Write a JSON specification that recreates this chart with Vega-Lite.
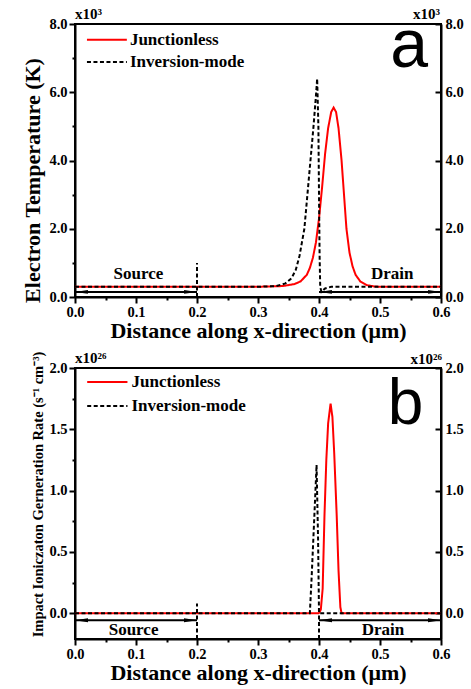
{
  "$schema": "https://vega.github.io/schema/vega-lite/v6.json",
  "background": "white",
  "padding": {"left": 20, "top": 6, "right": 4, "bottom": 4},
  "bounds": "flush",
  "spacing": 71,
  "datasets": {
    "curvesA": [
      {"series": "Junctionless", "x": 0, "y": 0.3},
      {"series": "Junctionless", "x": 0.3, "y": 0.3},
      {"series": "Junctionless", "x": 0.34, "y": 0.32},
      {"series": "Junctionless", "x": 0.36, "y": 0.38},
      {"series": "Junctionless", "x": 0.37, "y": 0.46},
      {"series": "Junctionless", "x": 0.38, "y": 0.65},
      {"series": "Junctionless", "x": 0.385, "y": 0.85},
      {"series": "Junctionless", "x": 0.39, "y": 1.15},
      {"series": "Junctionless", "x": 0.395, "y": 1.6},
      {"series": "Junctionless", "x": 0.4, "y": 2.3},
      {"series": "Junctionless", "x": 0.405, "y": 3.2},
      {"series": "Junctionless", "x": 0.41, "y": 4.2},
      {"series": "Junctionless", "x": 0.415, "y": 4.95},
      {"series": "Junctionless", "x": 0.42, "y": 5.42},
      {"series": "Junctionless", "x": 0.424, "y": 5.55},
      {"series": "Junctionless", "x": 0.428, "y": 5.42},
      {"series": "Junctionless", "x": 0.432, "y": 4.95},
      {"series": "Junctionless", "x": 0.437, "y": 4.0},
      {"series": "Junctionless", "x": 0.441, "y": 3.0},
      {"series": "Junctionless", "x": 0.445, "y": 2.0},
      {"series": "Junctionless", "x": 0.45, "y": 1.3},
      {"series": "Junctionless", "x": 0.455, "y": 0.9},
      {"series": "Junctionless", "x": 0.46, "y": 0.65},
      {"series": "Junctionless", "x": 0.468, "y": 0.45},
      {"series": "Junctionless", "x": 0.478, "y": 0.35},
      {"series": "Junctionless", "x": 0.49, "y": 0.31},
      {"series": "Junctionless", "x": 0.5, "y": 0.3},
      {"series": "Junctionless", "x": 0.6, "y": 0.3},
      {"series": "Inversion-mode", "x": 0, "y": 0.3},
      {"series": "Inversion-mode", "x": 0.3, "y": 0.3},
      {"series": "Inversion-mode", "x": 0.33, "y": 0.32},
      {"series": "Inversion-mode", "x": 0.345, "y": 0.4},
      {"series": "Inversion-mode", "x": 0.355, "y": 0.55},
      {"series": "Inversion-mode", "x": 0.362, "y": 0.8},
      {"series": "Inversion-mode", "x": 0.368, "y": 1.2},
      {"series": "Inversion-mode", "x": 0.372, "y": 1.6},
      {"series": "Inversion-mode", "x": 0.376, "y": 2.0},
      {"series": "Inversion-mode", "x": 0.381, "y": 3.0},
      {"series": "Inversion-mode", "x": 0.386, "y": 4.0},
      {"series": "Inversion-mode", "x": 0.391, "y": 5.0},
      {"series": "Inversion-mode", "x": 0.395, "y": 5.9},
      {"series": "Inversion-mode", "x": 0.397, "y": 6.4},
      {"series": "Inversion-mode", "x": 0.399, "y": 5.0},
      {"series": "Inversion-mode", "x": 0.4, "y": 3.0},
      {"series": "Inversion-mode", "x": 0.401, "y": 1.2},
      {"series": "Inversion-mode", "x": 0.402, "y": 0.3},
      {"series": "Inversion-mode", "x": 0.404, "y": 0.15},
      {"series": "Inversion-mode", "x": 0.41, "y": 0.25},
      {"series": "Inversion-mode", "x": 0.42, "y": 0.3},
      {"series": "Inversion-mode", "x": 0.6, "y": 0.3}
    ],
    "curvesB": [
      {"series": "Junctionless", "x": 0, "y": 0},
      {"series": "Junctionless", "x": 0.4, "y": 0},
      {"series": "Junctionless", "x": 0.403, "y": 0.03},
      {"series": "Junctionless", "x": 0.406, "y": 0.2},
      {"series": "Junctionless", "x": 0.409, "y": 0.8},
      {"series": "Junctionless", "x": 0.412, "y": 1.25},
      {"series": "Junctionless", "x": 0.415, "y": 1.55},
      {"series": "Junctionless", "x": 0.419, "y": 1.71},
      {"series": "Junctionless", "x": 0.422, "y": 1.6},
      {"series": "Junctionless", "x": 0.425, "y": 1.3},
      {"series": "Junctionless", "x": 0.429, "y": 0.8},
      {"series": "Junctionless", "x": 0.432, "y": 0.35},
      {"series": "Junctionless", "x": 0.435, "y": 0.05},
      {"series": "Junctionless", "x": 0.437, "y": 0},
      {"series": "Junctionless", "x": 0.6, "y": 0},
      {"series": "Inversion-mode", "x": 0, "y": 0},
      {"series": "Inversion-mode", "x": 0.385, "y": 0},
      {"series": "Inversion-mode", "x": 0.388, "y": 0.3},
      {"series": "Inversion-mode", "x": 0.392, "y": 0.75},
      {"series": "Inversion-mode", "x": 0.396, "y": 1.21},
      {"series": "Inversion-mode", "x": 0.3985, "y": 0.6},
      {"series": "Inversion-mode", "x": 0.4, "y": 0},
      {"series": "Inversion-mode", "x": 0.6, "y": 0}
    ],
    "legA": [
      {"series": "Junctionless", "x": 0.0196, "x2": 0.085, "y": 7.54},
      {"series": "Inversion-mode", "x": 0.0196, "x2": 0.085, "y": 6.89}
    ],
    "legTA": [
      {"series": "Junctionless", "x": 0.09, "y": 7.54},
      {"series": "Inversion-mode", "x": 0.09, "y": 6.89}
    ],
    "legB": [
      {"series": "Junctionless", "x": 0.02, "x2": 0.086, "y": 1.885},
      {"series": "Inversion-mode", "x": 0.02, "x2": 0.086, "y": 1.69}
    ],
    "legTB": [
      {"series": "Junctionless", "x": 0.0926, "y": 1.885},
      {"series": "Inversion-mode", "x": 0.0926, "y": 1.69}
    ],
    "divA": [{"x": 0.2, "y": 0, "y2": 1.0}],
    "divB": [{"x": 0.2, "y": -0.21, "y2": 0.08}, {"x": 0.4, "y": -0.21, "y2": 0}],
    "arrA": [{"x": 0, "x2": 0.2, "y": 0.15}, {"x": 0.4, "x2": 0.6, "y": 0.15}],
    "arrB": [{"x": 0, "x2": 0.2, "y": -0.057}, {"x": 0.4, "x2": 0.6, "y": -0.057}],
    "headA": [
      {"x": 0.0106, "y": 0.15, "dir": "left"},
      {"x": 0.1894, "y": 0.15, "dir": "right"},
      {"x": 0.4106, "y": 0.15, "dir": "left"},
      {"x": 0.5894, "y": 0.15, "dir": "right"}
    ],
    "headB": [
      {"x": 0.0107, "y": -0.057, "dir": "left"},
      {"x": 0.1893, "y": -0.057, "dir": "right"},
      {"x": 0.4107, "y": -0.057, "dir": "left"},
      {"x": 0.5893, "y": -0.057, "dir": "right"}
    ],
    "regA": [{"x": 0.104, "y": 0.67, "t": "Source"}, {"x": 0.52, "y": 0.67, "t": "Drain"}],
    "regB": [{"x": 0.096, "y": -0.14, "t": "Source"}, {"x": 0.505, "y": -0.14, "t": "Drain"}],
    "letA": [{"x": 0.548, "y": 6.74, "t": "a"}],
    "letB": [{"x": 0.542, "y": 1.54, "t": "b"}],
    "expAL": [{"x": 0, "y": 8, "t": "x10³"}],
    "expAR": [{"x": 0.6, "y": 8, "t": "x10³"}],
    "expBL": [{"x": 0, "y": 2, "t": "x10²⁶"}],
    "expBR": [{"x": 0.6, "y": 2, "t": "x10²⁶"}]
  },
  "vconcat": [
    {
      "width": 366,
      "height": 273,
      "encoding": {
        "x": {"field": "x", "type": "quantitative", "scale": {"domain": [0, 0.6], "nice": false, "zero": false},
          "axis": {"title": "Distance along x-direction (μm)", "titleFontSize": 22, "titlePadding": 2,
            "values": [0, 0.05, 0.1, 0.15, 0.2, 0.25, 0.3, 0.35, 0.4, 0.45, 0.5, 0.55, 0.6],
            "labelExpr": "round(datum.value*100) % 10 == 0 ? format(datum.value, '.1f') : ''",
            "tickSize": {"condition": {"test": "round(datum.value*100) % 10 == 0", "value": 6}, "value": 3},
            "labelPadding": 2, "labelFlush": false, "labelOverlap": false}}
      },
      "layer": [
        {
          "data": {"name": "curvesA"},
          "mark": {"type": "line", "strokeWidth": 2},
          "encoding": {
            "y": {"field": "y", "type": "quantitative", "scale": {"domain": [0, 8], "nice": false},
              "axis": {"title": "Electron Temperature (K)", "titleFontSize": 22, "titlePadding": 4, "titleY": 156,
                "values": [0, 1, 2, 3, 4, 5, 6, 7, 8],
                "labelExpr": "datum.value % 2 == 0 ? format(datum.value, '.1f') : ''",
                "tickSize": {"condition": {"test": "datum.value % 2 == 0", "value": 6}, "value": 3},
                "labelPadding": 2, "labelFlush": false, "labelOverlap": false}},
            "color": {"field": "series", "type": "nominal", "scale": {"domain": ["Junctionless", "Inversion-mode"], "range": ["#ff0000", "#000000"]}, "legend": null},
            "strokeDash": {"field": "series", "type": "nominal", "scale": {"domain": ["Junctionless", "Inversion-mode"], "range": [[1, 0], [4, 2.5]]}, "legend": null}
          }
        },
        {
          "data": {"name": "legA"},
          "mark": {"type": "rule", "strokeWidth": 2},
          "encoding": {
            "x2": {"field": "x2"},
            "y": {"field": "y", "type": "quantitative", "axis": null},
            "color": {"field": "series", "type": "nominal", "scale": {"domain": ["Junctionless", "Inversion-mode"], "range": ["#ff0000", "#000000"]}, "legend": null},
            "strokeDash": {"field": "series", "type": "nominal", "scale": {"domain": ["Junctionless", "Inversion-mode"], "range": [[1, 0], [4, 2.5]]}, "legend": null}
          }
        },
        {
          "data": {"name": "legTA"},
          "mark": {"type": "text", "font": "Liberation Serif", "fontWeight": "bold", "fontSize": 17, "align": "left", "baseline": "middle", "color": "black"},
          "encoding": {
            "y": {"field": "y", "type": "quantitative", "axis": null},
            "text": {"field": "series"}
          }
        },
        {
          "data": {"name": "divA"},
          "mark": {"type": "rule", "strokeWidth": 2, "strokeDash": [4, 2.5], "color": "black"},
          "encoding": {
            "y": {"field": "y", "type": "quantitative", "axis": null},
            "y2": {"field": "y2"}
          }
        },
        {
          "data": {"name": "arrA"},
          "mark": {"type": "rule", "strokeWidth": 2, "color": "black"},
          "encoding": {
            "x2": {"field": "x2"},
            "y": {"field": "y", "type": "quantitative", "axis": null}
          }
        },
        {
          "data": {"name": "headA"},
          "mark": {"type": "point", "filled": true, "color": "black", "opacity": 1, "size": 169},
          "encoding": {
            "y": {"field": "y", "type": "quantitative", "axis": null},
            "shape": {"field": "dir", "type": "nominal", "scale": {"domain": ["left", "right"], "range": ["M1,-0.3L-1,0L1,0.3Z", "M-1,-0.3L1,0L-1,0.3Z"]}, "legend": null}
          }
        },
        {
          "data": {"name": "regA"},
          "mark": {"type": "text", "font": "Liberation Serif", "fontWeight": "bold", "fontSize": 17, "align": "center", "baseline": "middle", "color": "black"},
          "encoding": {
            "y": {"field": "y", "type": "quantitative", "axis": null},
            "text": {"field": "t"}
          }
        },
        {
          "data": {"name": "letA"},
          "mark": {"type": "text", "font": "Liberation Sans", "fontSize": 68, "align": "center", "baseline": "alphabetic", "color": "black"},
          "encoding": {
            "y": {"field": "y", "type": "quantitative", "axis": null},
            "text": {"field": "t"}
          }
        },
        {
          "data": {"name": "expAL"},
          "mark": {"type": "text", "font": "Liberation Serif", "fontWeight": "bold", "fontSize": 15, "align": "left", "baseline": "alphabetic", "dy": -5, "color": "black"},
          "encoding": {
            "y": {"field": "y", "type": "quantitative", "axis": null},
            "text": {"field": "t"}
          }
        },
        {
          "data": {"name": "expAR"},
          "mark": {"type": "text", "font": "Liberation Serif", "fontWeight": "bold", "fontSize": 15, "align": "right", "baseline": "alphabetic", "dy": -5, "dx": -1, "color": "black"},
          "encoding": {
            "y": {"field": "y", "type": "quantitative",
              "axis": {"orient": "right", "title": null, "values": [0, 2, 4, 6, 8], "format": ".1f",
                "tickSize": -6, "labelPadding": 10, "labelFlush": false, "labelOverlap": false}},
            "text": {"field": "t"}
          }
        }
      ],
      "resolve": {"axis": {"y": "independent"}}
    },
    {
      "width": 366,
      "height": 271,
      "encoding": {
        "x": {"field": "x", "type": "quantitative", "scale": {"domain": [0, 0.6], "nice": false, "zero": false},
          "axis": {"title": "Distance along x-direction (μm)", "titleFontSize": 22, "titlePadding": 2,
            "values": [0, 0.05, 0.1, 0.15, 0.2, 0.25, 0.3, 0.35, 0.4, 0.45, 0.5, 0.55, 0.6],
            "labelExpr": "round(datum.value*100) % 10 == 0 ? format(datum.value, '.1f') : ''",
            "tickSize": {"condition": {"test": "round(datum.value*100) % 10 == 0", "value": 6}, "value": 3},
            "labelPadding": 2, "labelFlush": false, "labelOverlap": false}}
      },
      "layer": [
        {
          "data": {"name": "curvesB"},
          "mark": {"type": "line", "strokeWidth": 2},
          "encoding": {
            "y": {"field": "y", "type": "quantitative", "scale": {"domain": [-0.21, 2.0], "nice": false, "zero": false},
              "axis": {"title": "Impact Ioniczaton Gerneration Rate (s⁻¹ cm⁻³)", "titleFontSize": 14.5, "titlePadding": 3, "titleY": 126,
                "values": [0, 0.25, 0.5, 0.75, 1, 1.25, 1.5, 1.75, 2],
                "labelExpr": "round(datum.value*100) % 50 == 0 ? format(datum.value, '.1f') : ''",
                "tickSize": {"condition": {"test": "round(datum.value*100) % 50 == 0", "value": 6}, "value": 3},
                "labelPadding": 2, "labelFlush": false, "labelOverlap": false}},
            "color": {"field": "series", "type": "nominal", "scale": {"domain": ["Junctionless", "Inversion-mode"], "range": ["#ff0000", "#000000"]}, "legend": null},
            "strokeDash": {"field": "series", "type": "nominal", "scale": {"domain": ["Junctionless", "Inversion-mode"], "range": [[1, 0], [4, 2.5]]}, "legend": null}
          }
        },
        {
          "data": {"name": "legB"},
          "mark": {"type": "rule", "strokeWidth": 2},
          "encoding": {
            "x2": {"field": "x2"},
            "y": {"field": "y", "type": "quantitative", "axis": null},
            "color": {"field": "series", "type": "nominal", "scale": {"domain": ["Junctionless", "Inversion-mode"], "range": ["#ff0000", "#000000"]}, "legend": null},
            "strokeDash": {"field": "series", "type": "nominal", "scale": {"domain": ["Junctionless", "Inversion-mode"], "range": [[1, 0], [4, 2.5]]}, "legend": null}
          }
        },
        {
          "data": {"name": "legTB"},
          "mark": {"type": "text", "font": "Liberation Serif", "fontWeight": "bold", "fontSize": 17, "align": "left", "baseline": "middle", "color": "black"},
          "encoding": {
            "y": {"field": "y", "type": "quantitative", "axis": null},
            "text": {"field": "series"}
          }
        },
        {
          "data": {"name": "divB"},
          "mark": {"type": "rule", "strokeWidth": 2, "strokeDash": [4, 2.5], "color": "black"},
          "encoding": {
            "y": {"field": "y", "type": "quantitative", "axis": null},
            "y2": {"field": "y2"}
          }
        },
        {
          "data": {"name": "arrB"},
          "mark": {"type": "rule", "strokeWidth": 2, "color": "black"},
          "encoding": {
            "x2": {"field": "x2"},
            "y": {"field": "y", "type": "quantitative", "axis": null}
          }
        },
        {
          "data": {"name": "headB"},
          "mark": {"type": "point", "filled": true, "color": "black", "opacity": 1, "size": 169},
          "encoding": {
            "y": {"field": "y", "type": "quantitative", "axis": null},
            "shape": {"field": "dir", "type": "nominal", "scale": {"domain": ["left", "right"], "range": ["M1,-0.3L-1,0L1,0.3Z", "M-1,-0.3L1,0L-1,0.3Z"]}, "legend": null}
          }
        },
        {
          "data": {"name": "regB"},
          "mark": {"type": "text", "font": "Liberation Serif", "fontWeight": "bold", "fontSize": 17, "align": "center", "baseline": "middle", "color": "black"},
          "encoding": {
            "y": {"field": "y", "type": "quantitative", "axis": null},
            "text": {"field": "t"}
          }
        },
        {
          "data": {"name": "letB"},
          "mark": {"type": "text", "font": "Liberation Sans", "fontSize": 64, "align": "center", "baseline": "alphabetic", "color": "black"},
          "encoding": {
            "y": {"field": "y", "type": "quantitative", "axis": null},
            "text": {"field": "t"}
          }
        },
        {
          "data": {"name": "expBL"},
          "mark": {"type": "text", "font": "Liberation Serif", "fontWeight": "bold", "fontSize": 15, "align": "left", "baseline": "alphabetic", "dy": -5, "color": "black"},
          "encoding": {
            "y": {"field": "y", "type": "quantitative", "axis": null},
            "text": {"field": "t"}
          }
        },
        {
          "data": {"name": "expBR"},
          "mark": {"type": "text", "font": "Liberation Serif", "fontWeight": "bold", "fontSize": 15, "align": "right", "baseline": "alphabetic", "dy": -4, "dx": 1, "color": "black"},
          "encoding": {
            "y": {"field": "y", "type": "quantitative",
              "axis": {"orient": "right", "title": null, "values": [0, 0.5, 1, 1.5, 2], "format": ".1f",
                "tickSize": -6, "labelPadding": 10, "labelFlush": false, "labelOverlap": false}},
            "text": {"field": "t"}
          }
        }
      ],
      "resolve": {"axis": {"y": "independent"}}
    }
  ],
  "config": {
    "view": {"stroke": "black", "strokeWidth": 2},
    "axis": {
      "labelFont": "Liberation Serif", "labelFontWeight": "bold", "labelFontSize": 14.5, "labelColor": "black",
      "titleFont": "Liberation Serif", "titleFontWeight": "bold", "titleColor": "black",
      "domainColor": "black", "domainWidth": 2, "tickColor": "black", "tickWidth": 2, "grid": false
    }
  }
}
